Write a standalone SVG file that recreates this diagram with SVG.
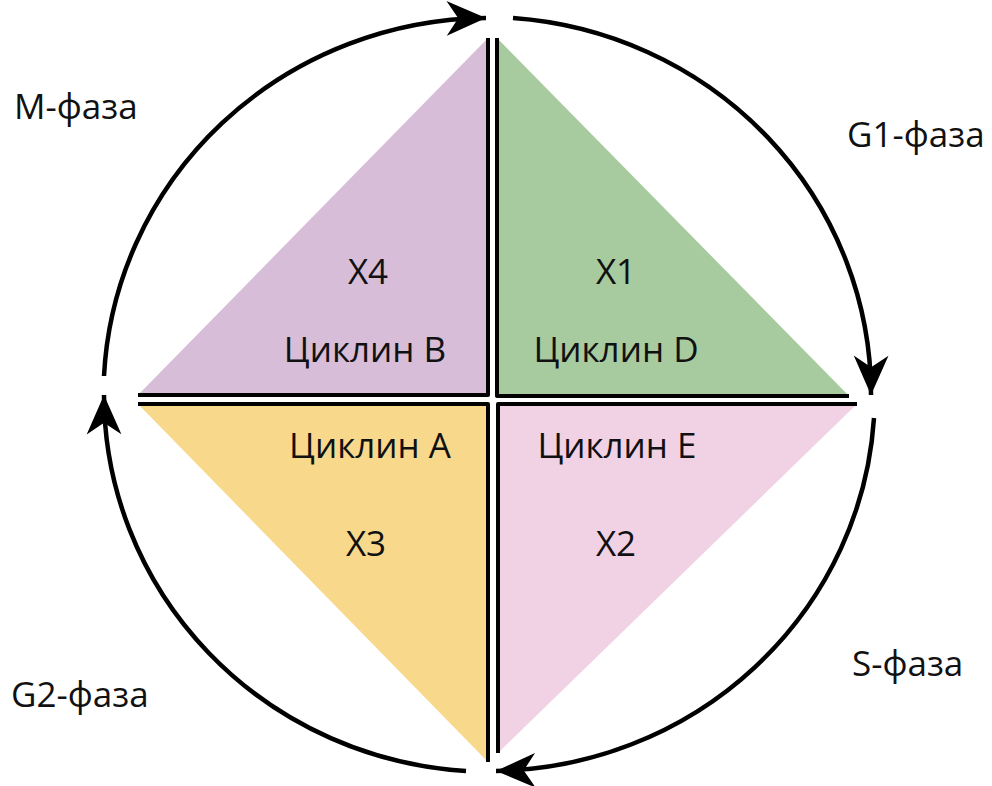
<svg xmlns="http://www.w3.org/2000/svg" width="992" height="786" viewBox="0 0 992 786">
  <style>
    .leg { fill: none; stroke: #000; stroke-width: 4; stroke-linejoin: round; }
    .cycle { fill: none; stroke: #000; stroke-width: 4.5; marker-end: url(#barb); }
    text { font-family: "Open Sans", "Noto Sans", sans-serif; font-size: 35px; fill: #111; }
    .mid { text-anchor: middle; }
  </style>
  <defs>
    <marker id="barb" markerUnits="userSpaceOnUse" markerWidth="44" markerHeight="44" viewBox="-36 -18 38 36" refX="0" refY="0" orient="auto">
      <path d="M0,0 L-34,-15 L-24,0 L-34,15 Z" fill="#000"/>
    </marker>
  </defs>

  <!-- quadrants -->
  <g id="x4-cyclin-b">
    <polygon points="488,38 488,395 138,395" fill="#D7BDD8"/>
    <polyline class="leg" points="488,38 488,395 138,395"/>
    <text class="mid" x="368" y="284">X4</text>
    <text class="mid" x="365" y="362">Циклин B</text>
  </g>
  <g id="x1-cyclin-d">
    <polygon points="497,38 497,396 849,396" fill="#A7CA9E"/>
    <polyline class="leg" points="497,38 497,396 849,396"/>
    <text class="mid" x="616" y="284">X1</text>
    <text class="mid" x="616" y="362">Циклин D</text>
  </g>
  <g id="x3-cyclin-a">
    <polygon points="488,762 488,404 138,404" fill="#F8D98B"/>
    <polyline class="leg" points="488,762 488,404 138,404"/>
    <text class="mid" x="370" y="458">Циклин A</text>
    <text class="mid" x="366" y="556">X3</text>
  </g>
  <g id="x2-cyclin-e">
    <polygon points="498,753 498,404 857,404" fill="#F1D2E5"/>
    <polyline class="leg" points="498,753 498,404 857,404"/>
    <text class="mid" x="617" y="458">Циклин E</text>
    <text class="mid" x="616" y="556">X2</text>
  </g>

  <!-- cycle arrows -->
  <g id="connectors">
    <path class="cycle" d="M104,376 A386,377 0 0 1 486,18"/>
    <path class="cycle" d="M513,18 A386,377 0 0 1 871,395"/>
    <path class="cycle" d="M874,418 A386,377 0 0 1 496,771"/>
    <path class="cycle" d="M466,771 A386,377 0 0 1 104,395"/>
  </g>

  <!-- phase labels -->
  <g id="labels">
    <text x="14" y="119">M-фаза</text>
    <text x="847" y="147">G1-фаза</text>
    <text x="852" y="676">S-фаза</text>
    <text x="11" y="707">G2-фаза</text>
  </g>
</svg>
